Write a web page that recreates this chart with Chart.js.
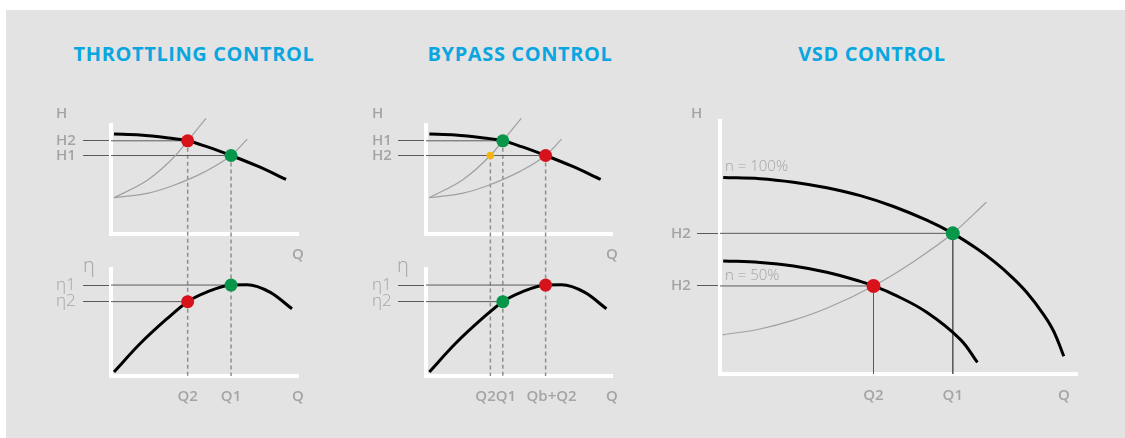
<!DOCTYPE html>
<html>
<head>
<meta charset="utf-8">
<title>Pump control methods</title>
<script src="https://cdn.jsdelivr.net/npm/chart.js@4.4.1/dist/chart.umd.min.js"></script>
<style>
  html, body { margin: 0; padding: 0; background: #fff; }
  body { position: relative; width: 1125px; height: 438px; overflow: hidden; }
  #bg { position: absolute; left: 6px; top: 10px; width: 1119px; height: 428px; background: #e3e3e3; }
  .title { position: absolute; top: 44px; transform: translateX(-50%); white-space: nowrap;
           font: 700 20px/1 'Open Sans', sans-serif; letter-spacing: 0.6px; color: #0aa6e0; }
  canvas { position: absolute; }
</style>
</head>
<body>
<div id="bg"></div>
<div class="title" style="left:194px">THROTTLING CONTROL</div>
<div class="title" style="left:520px">BYPASS CONTROL</div>
<div class="title" style="left:872px">VSD CONTROL</div>
<canvas id="throttle" width="270" height="320" style="left:56px;top:100px"></canvas>
<canvas id="bypass" width="270" height="320" style="left:372px;top:100px"></canvas>
<canvas id="vsd" width="440" height="320" style="left:671px;top:100px"></canvas>
<script>
// ---- throttling control (Q and H / eta in % of axis length) ----
const thrPumpQ = [1.6, 15.5, 29.8, 41.0, 51.2, 64.2, 78.1, 93.6];
const thrPumpH = [91.7, 90.8, 88.3, 85.5, 80.1, 72.0, 62.4, 50.2];
const thrSysAQ = [1.6, 20.0, 34.5, 41.0, 50.8];
const thrSysAH = [33.3, 50.0, 72.0, 85.5, 106.0];
const thrSysBQ = [1.6, 20.0, 33.3, 50.0, 64.2, 72.9];
const thrSysBH = [33.3, 37.5, 44.5, 57.0, 72.0, 87.0];
const thrEffQ = [1.6, 15.5, 29.8, 41.0, 51.2, 64.2, 72.7, 85.2, 96.8];
const thrEffE = [3.8, 30.1, 53.3, 69.5, 78.4, 85.0, 85.2, 78.1, 62.8];
const thrOpQ = [41.0, 64.2];        // Q2 (red), Q1 (green)
const thrOpH = [85.5, 72.0];        // H2, H1
const thrOpE = [69.5, 85.0];        // eta2, eta1
const thrHLabels = ['H2', 'H1'];
const thrELabels = ['η2', 'η1'];
const thrQTicks = [41.0, 64.2, 100];
const thrQLabels = ['Q2', 'Q1', 'Q'];

// ---- bypass control ----
const bypPumpQ = [1.8, 15.7, 30.0, 41.3, 51.4, 64.3, 78.2, 93.9];
const bypPumpH = [91.7, 90.8, 88.3, 85.5, 80.1, 72.0, 62.4, 50.2];
const bypSysAQ = [1.8, 20.0, 34.6, 41.3, 51.2];
const bypSysAH = [33.3, 50.0, 72.0, 85.5, 106.0];
const bypSysBQ = [1.8, 20.0, 33.3, 50.0, 64.3, 72.9];
const bypSysBH = [33.3, 37.5, 44.5, 57.0, 72.0, 87.0];
const bypEffQ = [1.8, 15.7, 30.0, 41.3, 51.4, 64.3, 72.9, 85.4, 97.0];
const bypEffE = [3.8, 30.1, 53.3, 69.5, 78.4, 85.0, 85.2, 78.1, 62.8];
const bypOpQ = [34.6, 41.3, 64.3];  // Q2 (yellow), Q1 (green), Qb+Q2 (red)
const bypOpH = [72.0, 85.5, 72.0];
const bypOpE = [null, 69.5, 85.0];
const bypHLabels = ['H1', 'H2'];
const bypELabels = ['η1', 'η2'];
const bypQTicks = [37.5, 67.5, 100];
const bypQLabels = ['Q2Q1', 'Qb+Q2', 'Q'];

// ---- VSD control ----
const vsdFullQ = [0.9, 11.2, 20.6, 29.9, 39.3, 48.6, 57.9, 65.2, 72.0, 77.0, 81.3, 86.0, 90.7, 93.5, 96.3];
const vsdFullH = [77.7, 77.2, 75.8, 73.6, 70.5, 66.2, 60.8, 55.6, 49.5, 44.2, 38.9, 32.1, 23.4, 16.8, 7.0];
const vsdHalfQ = [0.9, 11.2, 20.6, 29.9, 39.3, 43.0, 48.6, 57.9, 67.3, 72.1];
const vsdHalfH = [44.7, 44.1, 42.7, 40.2, 36.6, 34.8, 31.5, 24.4, 13.7, 4.6];
const vsdSysQ = [0.75, 11.2, 20.6, 29.9, 43.0, 54.2, 65.2, 74.6];
const vsdSysH = [15.5, 17.8, 21.3, 26.0, 34.8, 44.4, 55.6, 67.9];
const vsdOpQ = [65.2, 43.0];        // Q1 (green, n = 100%), Q2 (red, n = 50%)
const vsdOpH = [55.6, 34.8];
const vsdHLabels = ['H2', 'H2'];
const vsdQTicks = [43.0, 65.2, 96.3];
const vsdQLabels = ['Q2', 'Q1', 'Q'];

const TXT = '#a4a4a4';
const DARK = '#5a5a5a';
const SYS = '#a0a0a0';
const RED = '#d8121b', GREEN = '#07964a', YELLOW = '#f5b70f';
const labelFont = { family: "'Open Sans', sans-serif", size: 15, weight: '600' };
const etaFont = { family: "'Open Sans', sans-serif", size: 17, weight: '300' };
const axisBorder = { display: true, color: '#ffffff', width: 4 };

const xy = (qs, vs) => qs.map((q, i) => ({ x: q, y: vs[i] }));
const fixedTicks = vals => scale => { scale.ticks = vals.map(v => ({ value: v })); };

const curve = (data, yAxisID, color, width) => ({ data, yAxisID, showLine: true, borderColor: color,
  borderWidth: width, pointRadius: 0, cubicInterpolationMode: 'monotone', clip: false });
// steep speed curves look smoother with plain bezier tension
const bend = (data, yAxisID, color, width) => ({ data, yAxisID, showLine: true, borderColor: color,
  borderWidth: width, pointRadius: 0, tension: 0.4, clip: false });
const rule = (data, yAxisID) => ({ data, yAxisID, showLine: true, borderColor: DARK,
  borderWidth: 1, pointRadius: 0, tension: 0, clip: false });
const dot = (x, y, yAxisID, color, r) => ({ data: [{ x, y }], yAxisID, showLine: false,
  pointRadius: r, pointBackgroundColor: color, pointBorderWidth: 0, clip: false });

// dashed drop lines between the H and eta parts, plus axis names / curve notes
const guides = {
  id: 'guides',
  beforeDatasetsDraw(chart, args, opts) {
    const s = chart.scales, ctx = chart.ctx;
    ctx.save();
    ctx.strokeStyle = '#8d8d8d';
    ctx.lineWidth = 1.5;
    ctx.setLineDash([4, 3]);
    (opts.drops || []).forEach(d => {
      const x = s.x.getPixelForValue(d.q);
      ctx.beginPath();
      ctx.moveTo(x, s.yH.getPixelForValue(d.h));
      ctx.lineTo(x, s.yE.getPixelForValue(0));
      ctx.stroke();
    });
    ctx.restore();
  },
  afterDraw(chart, args, opts) {
    const ctx = chart.ctx;
    ctx.save();
    ctx.textAlign = 'left';
    ctx.textBaseline = 'middle';
    ctx.fillStyle = TXT;
    (opts.notes || []).forEach(n => {
      let x, y;
      if (n.scale) {
        const sc = chart.scales[n.scale];
        x = sc.left + n.dx;
        y = sc.top + n.dy;
      } else {
        x = chart.scales.x.getPixelForValue(n.q);
        y = chart.scales.y.getPixelForValue(n.h);
      }
      ctx.font = n.font;
      ctx.fillText(n.text, x, y);
    });
    ctx.restore();
  }
};

function xScale(ticks, labels, pad) {
  return {
    type: 'linear', axis: 'x', min: 0, max: 100, border: axisBorder,
    grid: { display: false, drawTicks: false },
    afterBuildTicks: fixedTicks(ticks),
    ticks: { autoSkip: false, maxRotation: 0, padding: pad, color: TXT, font: labelFont,
             callback: (v, i) => labels[i] }
  };
}

function yScale(ticks, labels, font, tickLen, width, extra) {
  return Object.assign({
    type: 'linear', axis: 'y', position: 'left', min: 0, max: 100, border: axisBorder,
    grid: { drawOnChartArea: false, color: 'transparent', tickColor: DARK, tickWidth: 1, tickLength: tickLen },
    afterBuildTicks: fixedTicks(ticks),
    afterFit: s => { s.width = width; },
    ticks: { autoSkip: false, crossAlign: 'far', padding: 6, color: TXT, font,
             callback: (v, i) => labels[i] }
  }, extra);
}

function columnChart(id, c) {
  const xBottom = Object.assign(xScale(c.qTicks, c.qLabels, 12), {
    position: 'bottom', afterFit: s => { s.height = 30; } });
  const xTop = Object.assign(xScale([100], ['Q'], 12), { position: { yH: 0 } });
  new Chart(document.getElementById(id), {
    type: 'scatter',
    data: { datasets: c.datasets },
    options: {
      responsive: false, animation: false, events: [],
      layout: { padding: c.padding },
      plugins: { legend: { display: false }, tooltip: { enabled: false },
                 guides: { drops: c.drops, notes: c.notes } },
      scales: {
        x: xBottom,
        xH: xTop,
        yE: yScale(c.eTicks, c.eLabels, etaFont, 28, c.yWidth, { stack: 'col', stackWeight: 107 }),
        yGap: { type: 'linear', axis: 'y', position: 'left', stack: 'col', stackWeight: 35,
                display: false, min: 0, max: 1 },
        yH: yScale(c.hTicks, c.hLabels, labelFont, 28, c.yWidth, { stack: 'col', stackWeight: 109 })
      }
    },
    plugins: [guides]
  });
}

const notesFor = etaDx => [
  { text: 'H', scale: 'yH', dx: 0, dy: -11, font: "600 15px 'Open Sans'" },
  { text: 'η', scale: 'yE', dx: etaDx, dy: -3, font: "300 20px 'Open Sans'" }
];

columnChart('throttle', {
  padding: { left: 0, top: 25, right: 28, bottom: 14 },
  yWidth: 55,
  qTicks: thrQTicks, qLabels: thrQLabels,
  hTicks: thrOpH, hLabels: thrHLabels,
  eTicks: thrOpE, eLabels: thrELabels,
  drops: thrOpQ.map((q, i) => ({ q, h: thrOpH[i] })),
  notes: notesFor(27),
  datasets: [
    dot(thrOpQ[0], thrOpH[0], 'yH', RED, 6.5),
    dot(thrOpQ[1], thrOpH[1], 'yH', GREEN, 6.5),
    dot(thrOpQ[0], thrOpE[0], 'yE', RED, 6.5),
    dot(thrOpQ[1], thrOpE[1], 'yE', GREEN, 6.5),
    curve(xy(thrPumpQ, thrPumpH), 'yH', '#000', 3),
    curve(xy(thrSysAQ, thrSysAH), 'yH', SYS, 1.2),
    curve(xy(thrSysBQ, thrSysBH), 'yH', SYS, 1.2),
    curve(xy(thrEffQ, thrEffE), 'yE', '#000', 3),
    rule([{ x: 0, y: thrOpH[0] }, { x: thrOpQ[0], y: thrOpH[0] }], 'yH'),
    rule([{ x: 0, y: thrOpH[1] }, { x: thrOpQ[1], y: thrOpH[1] }], 'yH'),
    rule([{ x: 0, y: thrOpE[0] }, { x: thrOpQ[0], y: thrOpE[0] }], 'yE'),
    rule([{ x: 0, y: thrOpE[1] }, { x: thrOpQ[1], y: thrOpE[1] }], 'yE')
  ]
});

columnChart('bypass', {
  padding: { left: 0, top: 25, right: 30, bottom: 14 },
  yWidth: 54,
  qTicks: bypQTicks, qLabels: bypQLabels,
  hTicks: [bypOpH[1], bypOpH[2]], hLabels: bypHLabels,
  eTicks: [bypOpE[2], bypOpE[1]], eLabels: bypELabels,
  drops: bypOpQ.map((q, i) => ({ q, h: bypOpH[i] })),
  notes: notesFor(25),
  datasets: [
    dot(bypOpQ[0], bypOpH[0], 'yH', YELLOW, 3.8),
    dot(bypOpQ[1], bypOpH[1], 'yH', GREEN, 6.5),
    dot(bypOpQ[2], bypOpH[2], 'yH', RED, 6.5),
    dot(bypOpQ[1], bypOpE[1], 'yE', GREEN, 6.5),
    dot(bypOpQ[2], bypOpE[2], 'yE', RED, 6.5),
    curve(xy(bypPumpQ, bypPumpH), 'yH', '#000', 3),
    curve(xy(bypSysAQ, bypSysAH), 'yH', SYS, 1.2),
    curve(xy(bypSysBQ, bypSysBH), 'yH', SYS, 1.2),
    curve(xy(bypEffQ, bypEffE), 'yE', '#000', 3),
    rule([{ x: 0, y: bypOpH[1] }, { x: bypOpQ[1], y: bypOpH[1] }], 'yH'),
    rule([{ x: 0, y: bypOpH[2] }, { x: bypOpQ[2], y: bypOpH[2] }], 'yH'),
    rule([{ x: 0, y: bypOpE[2] }, { x: bypOpQ[2], y: bypOpE[2] }], 'yE'),
    rule([{ x: 0, y: bypOpE[1] }, { x: bypOpQ[1], y: bypOpE[1] }], 'yE')
  ]
});

new Chart(document.getElementById('vsd'), {
  type: 'scatter',
  data: {
    datasets: [
      dot(vsdOpQ[0], vsdOpH[0], 'y', GREEN, 7),
      dot(vsdOpQ[1], vsdOpH[1], 'y', RED, 7),
      bend(xy(vsdFullQ, vsdFullH), 'y', '#000', 3),
      bend(xy(vsdHalfQ, vsdHalfH), 'y', '#000', 3),
      curve(xy(vsdSysQ, vsdSysH), 'y', SYS, 1.2),
      rule([{ x: 0, y: vsdOpH[0] }, { x: vsdOpQ[0], y: vsdOpH[0] }], 'y'),
      rule([{ x: 0, y: vsdOpH[1] }, { x: vsdOpQ[1], y: vsdOpH[1] }], 'y'),
      rule([{ x: vsdOpQ[0], y: vsdOpH[0] }, { x: vsdOpQ[0], y: 0 }], 'y'),
      rule([{ x: vsdOpQ[1], y: vsdOpH[1] }, { x: vsdOpQ[1], y: 0 }], 'y')
    ]
  },
  options: {
    responsive: false, animation: false, events: [],
    layout: { padding: { left: 0, top: 21, right: 34, bottom: 16 } },
    plugins: {
      legend: { display: false }, tooltip: { enabled: false },
      guides: { notes: [
        { text: 'H', scale: 'y', dx: 20, dy: -7, font: "600 15px 'Open Sans'" },
        { text: 'n = 100%', q: 1.4, h: 81.9, font: "300 15px 'Open Sans'" },
        { text: 'n = 50%', q: 1.4, h: 38.9, font: "300 15px 'Open Sans'" }
      ] }
    },
    scales: {
      x: Object.assign(xScale(vsdQTicks, vsdQLabels, 13), { position: 'bottom', afterFit: s => { s.height = 30; } }),
      y: yScale(vsdOpH, vsdHLabels, labelFont, 23, 49, {})
    }
  },
  plugins: [guides]
});
</script>
</body>
</html>
